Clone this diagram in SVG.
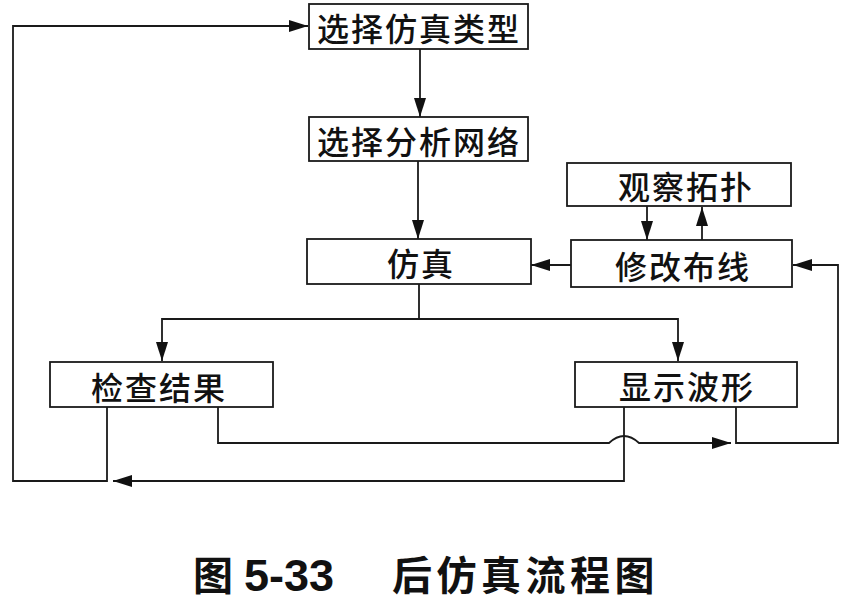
<svg xmlns="http://www.w3.org/2000/svg" width="856" height="601" viewBox="0 0 856 601">
  <style>
    .box { fill: #fff; stroke: #1a1a1a; stroke-width: 1.8; }
    .lbl { font-family: "Noto Sans CJK SC", "Noto Sans", sans-serif; font-size: 32px; font-weight: 500; letter-spacing: 2px; fill: #111; text-anchor: middle; dominant-baseline: central; }
    .cn { fill: none; stroke: #1a1a1a; stroke-width: 1.8; }
    .cap { font-family: "Noto Sans CJK SC", "Noto Sans", sans-serif; font-weight: bold; fill: #111; }
    .num { font-family: "Liberation Sans", "Noto Sans", sans-serif; font-weight: bold; fill: #111; }
  </style>
  <defs>
    <marker id="ah" markerUnits="userSpaceOnUse" markerWidth="20" markerHeight="12" refX="19" refY="6" orient="auto">
      <path d="M0,0 L19,6 L0,12 z" fill="#111"/>
    </marker>
  </defs>
  <rect width="856" height="601" fill="#fff"/>

  <g id="connectors">
    <path class="cn" d="M420,49 V117" marker-end="url(#ah)"/>
    <path class="cn" d="M418,161 V239" marker-end="url(#ah)"/>
    <path class="cn" d="M647,206 V240" marker-end="url(#ah)"/>
    <path class="cn" d="M702,240 V207" marker-end="url(#ah)"/>
    <path class="cn" d="M571,265 H531" marker-end="url(#ah)"/>
    <path class="cn" d="M419,284 V319 H162 V361" marker-end="url(#ah)"/>
    <path class="cn" d="M419,319 H678 V361" marker-end="url(#ah)"/>
    <path class="cn" d="M218,407 V443 H609 Q624,429 639,443 H731" marker-end="url(#ah)"/>
    <path class="cn" d="M736,407 V443 H838 V265 H793" marker-end="url(#ah)"/>
    <path class="cn" d="M624,407 V481 H113" marker-end="url(#ah)"/>
    <path class="cn" d="M107,407 V481 H13 V26 H308" marker-end="url(#ah)"/>
  </g>

  <g id="n1">
    <rect class="box" x="309" y="4" width="219" height="45"/>
    <text class="lbl" x="419" y="27">选择仿真类型</text>
  </g>
  <g id="n2">
    <rect class="box" x="309" y="117" width="219" height="44"/>
    <text class="lbl" x="419" y="140">选择分析网络</text>
  </g>
  <g id="n3">
    <rect class="box" x="567" y="163" width="224" height="43"/>
    <text class="lbl" x="686" y="185">观察拓扑</text>
  </g>
  <g id="n4">
    <rect class="box" x="307" y="239" width="224" height="45"/>
    <text class="lbl" x="421" y="262">仿真</text>
  </g>
  <g id="n5">
    <rect class="box" x="571" y="240" width="221" height="47"/>
    <text class="lbl" x="683" y="265">修改布线</text>
  </g>
  <g id="n6">
    <rect class="box" x="50" y="362" width="223" height="45"/>
    <text class="lbl" x="159" y="386">检查结果</text>
  </g>
  <g id="n7">
    <rect class="box" x="575" y="362" width="222" height="45"/>
    <text class="lbl" x="687" y="385">显示波形</text>
  </g>

  <g id="caption">
    <text class="cap" x="193" y="573" font-size="40" dominant-baseline="central">图</text>
    <text class="num" x="244" y="591" font-size="45">5-33</text>
    <text class="cap" x="392" y="573" font-size="40" letter-spacing="4.5" dominant-baseline="central">后仿真流程图</text>
  </g>
</svg>
